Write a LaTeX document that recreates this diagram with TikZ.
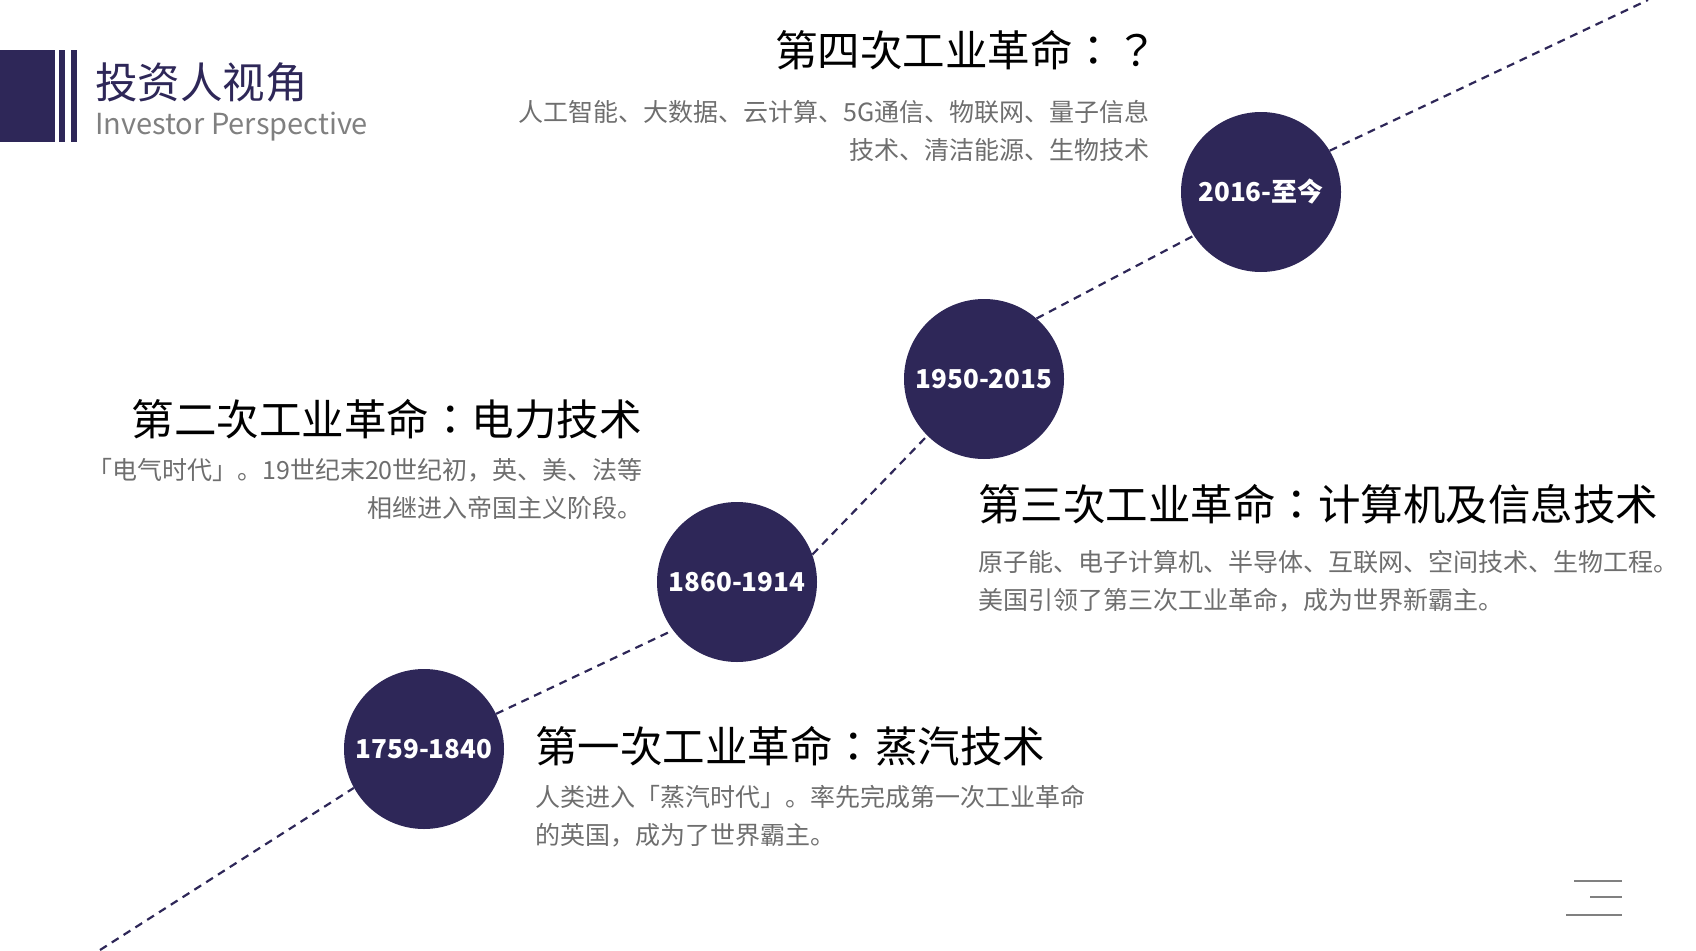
\documentclass[tikz,border=0pt]{standalone}
\usepackage{fontspec}
\setmainfont{Noto Sans CJK SC}
\newfontfamily\headfont{Noto Sans CJK TC}
\usepackage{tikz}
\usetikzlibrary{positioning}
\definecolor{navy}{RGB}{46,39,88}
\definecolor{notegray}{RGB}{110,110,110}
\definecolor{softgray}{RGB}{128,128,128}

\begin{document}
\begin{tikzpicture}[x=1pt,y=-1pt,
  every node/.style={inner sep=0pt},
  era/.style={circle,fill=navy,minimum size=160pt,text=white,font=\fontsize{26}{30}\selectfont\bfseries},
  headline/.style={font=\fontsize{42.5}{50}\headfont,text=black},
  note/.style={font=\fontsize{25}{38}\selectfont,text=notegray},
  trail/.style={draw=navy,line width=2.2pt,dash pattern=on 8pt off 6pt}
]
  \useasboundingbox (0,0) rectangle (1696,950);
  % header
  \fill[navy] (0,50) rectangle (55,142);
  \fill[navy] (59,50) rectangle (65,142);
  \fill[navy] (71,50) rectangle (77,142);
  \node[anchor=west,text=navy,font=\fontsize{42.5}{48}\selectfont] (title) at (95,82) {投资人视角};
  \node[anchor=base west,text=softgray,font=\fontsize{29}{36}\selectfont] (subtitle) at (95,134) {Investor Perspective};

  % timeline
  \node[era] (c1) at (424,749) {1759-1840};
  \node[era] (c2) at (737,582) {1860-1914};
  \node[era] (c3) at (984,379) {1950-2015};
  \node[era] (c4) at (1261,192) {2016-至今};
  \coordinate (lowend) at (100,950);
  \coordinate (topend) at (1648,0);
  \draw[trail] (lowend) -- (c1.209);
  \draw[trail] (c1.26) -- (c2.217);
  \draw[trail] (c2.20) -- (c3.225);
  \draw[trail] (c3.49) -- (c4.213);
  \draw[trail] (c4.31) -- (topend);

  % texts
  \node[headline,anchor=east] (t4) at (1158,50) {第四次工业革命：？};
  \node[note,anchor=east,align=right] (d4) at (1150,131)
    {人工智能、大数据、云计算、5G通信、物联网、量子信息\\技术、清洁能源、生物技术};
  \node[headline,anchor=east] (t2) at (642,419) {第二次工业革命：电力技术};
  \node[note,anchor=east,align=right] (d2) at (643,489)
    {「电气时代」。19世纪末20世纪初，英、美、法等\\相继进入帝国主义阶段。};
  \node[headline,anchor=west] (t3) at (978,504) {第三次工业革命：计算机及信息技术};
  \node[note,anchor=west,align=left] (d3) at (978,581)
    {原子能、电子计算机、半导体、互联网、空间技术、生物工程。\\美国引领了第三次工业革命，成为世界新霸主。};
  \node[headline,anchor=west] (t1) at (535,746) {第一次工业革命：蒸汽技术};
  \node[note,anchor=west,align=left] (d1) at (535,816)
    {人类进入「蒸汽时代」。率先完成第一次工业革命\\的英国，成为了世界霸主。};

  % menu icon
  \draw[softgray,line width=2pt] (1574,881) -- (1622,881);
  \draw[softgray,line width=2pt] (1590,897) -- (1622,897);
  \draw[softgray,line width=2pt] (1566,915) -- (1622,915);
\end{tikzpicture}
\end{document}
